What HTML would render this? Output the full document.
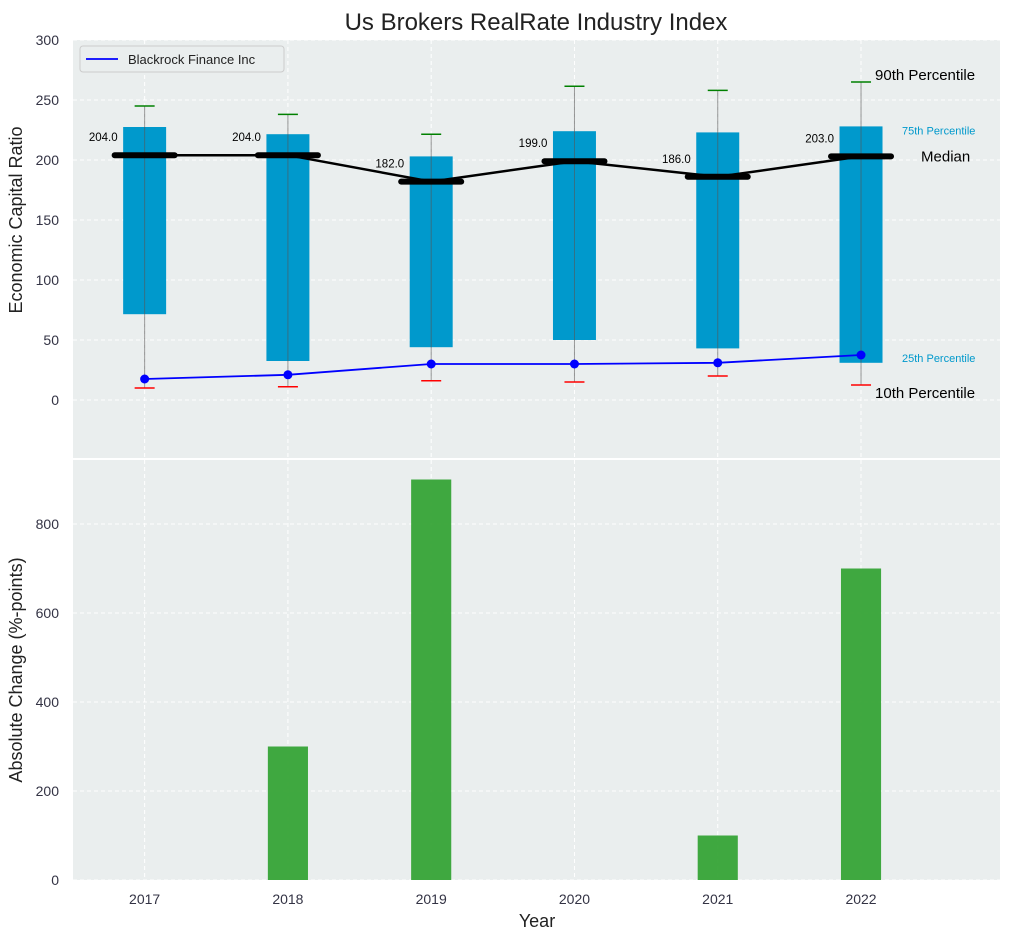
<!DOCTYPE html>
<html><head><meta charset="utf-8"><style>
body{margin:0;background:#fff;font-family:"Liberation Sans",Arial,sans-serif}
svg text{font-family:"Liberation Sans",Arial,sans-serif}
</style></head><body>
<svg id="chart" width="1012" height="940" xmlns="http://www.w3.org/2000/svg">
<text x="536" y="30" text-anchor="middle" font-size="24" fill="#222">Us Brokers RealRate Industry Index</text>
<g id="topPanel"></g><g id="bottomPanel"></g>
</svg>
<script>
const years=[2017,2018,2019,2020,2021,2022];
const p10=[10,11,16,15,20,12.5];
const p25=[71.5,32.5,44,50,43,31];
const p50=[204,204,182,199,186,203];
const p75=[227.5,221.5,203,224,223,228];
const p90=[245,238,221.5,261.5,258,265];
const company=[17.5,21,30,30,31,37.5];
const changes=[0,300,900,0,100,700];
const topTicks=[0,50,100,150,200,250,300];
const botTicks=[0,200,400,600,800];

const NS="http://www.w3.org/2000/svg";
const L=73,R=1000;
const x=v=>L+(v-2016.5)/(2022.97-2016.5)*(R-L);
const yT=v=>400-v*1.2;
const yB=v=>880-v*0.445;
function mk(p,tag,a,t){const el=document.createElementNS(NS,tag);for(const k in a)el.setAttribute(k,a[k]);if(t!==undefined)el.textContent=t;p.appendChild(el);return el;}
const topG=document.getElementById('topPanel'),botG=document.getElementById('bottomPanel');

let e;
e=mk(topG,'rect',{x:L,y:40,width:R-L,height:418,fill:'#eaeeee'});


e=mk(botG,'rect',{x:L,y:460,width:R-L,height:420,fill:'#eaeeee'});



topTicks.forEach(t=>{
 mk(topG,'line',{x1:L,x2:R,y1:yT(t),y2:yT(t),stroke:'#fff','stroke-dasharray':'4,3'});
 e=mk(topG,'text',{x:L-14,y:yT(t)+5,'text-anchor':'end','font-size':14,fill:'#334'},t);
 
 
});
botTicks.forEach(t=>{
 mk(botG,'line',{x1:L,x2:R,y1:yB(t),y2:yB(t),stroke:'#fff','stroke-dasharray':'4,3'});
 e=mk(botG,'text',{x:L-14,y:yB(t)+5,'text-anchor':'end','font-size':14,fill:'#334'},t);
 
 
});
years.forEach(yr=>{
 mk(topG,'line',{x1:x(yr),x2:x(yr),y1:40,y2:458,stroke:'#fff','stroke-dasharray':'4,3'});
 mk(botG,'line',{x1:x(yr),x2:x(yr),y1:460,y2:880,stroke:'#fff','stroke-dasharray':'4,3'});
 e=mk(botG,'text',{x:x(yr),y:904,'text-anchor':'middle','font-size':14,fill:'#334'},yr);
 
 
});

const bw=(x(2017.3)-x(2017));
years.forEach((yr,i)=>{
 const cx=x(yr);
 e=mk(topG,'rect',{x:cx-bw/2,y:yT(p75[i]),width:bw,height:yT(p25[i])-yT(p75[i]),fill:'#0099cc'});
 
 
 e=mk(topG,'line',{x1:cx,x2:cx,y1:yT(p90[i]),y2:yT(p10[i]),stroke:'#555','stroke-opacity':0.6,'stroke-width':1});
 
 
 e=mk(topG,'line',{x1:cx-10,x2:cx+10,y1:yT(p90[i]),y2:yT(p90[i]),stroke:'green','stroke-width':1.5});
 
 
 e=mk(topG,'line',{x1:cx-10,x2:cx+10,y1:yT(p10[i]),y2:yT(p10[i]),stroke:'red','stroke-width':1.5});
 
 
});
e=mk(topG,'polyline',{points:years.map((yr,i)=>x(yr)+','+yT(p50[i])).join(' '),fill:'none',stroke:'#000','stroke-width':2.5});


years.forEach((yr,i)=>{
 const cx=x(yr);
 e=mk(topG,'line',{x1:cx-30,x2:cx+30,y1:yT(p50[i]),y2:yT(p50[i]),stroke:'#000','stroke-width':6,'stroke-linecap':'round'});
 
 
 e=mk(topG,'text',{x:cx-27,y:yT(p50[i])-14,'text-anchor':'end','font-size':11.5,fill:'#000'},p50[i].toFixed(1));
 
 
});
e=mk(topG,'polyline',{points:years.map((yr,i)=>x(yr)+','+yT(company[i])).join(' '),fill:'none',stroke:'blue','stroke-width':1.8});


years.forEach((yr,i)=>{
 e=mk(topG,'circle',{cx:x(yr),cy:yT(company[i]),r:4.5,fill:'blue'});
 
 
});
const lx=x(2022);
[[ '90th Percentile',lx+14,yT(p90[5])-2,15,'#000'],['75th Percentile',lx+41,yT(p75[5])+8,11,'#0099cc'],['Median',lx+60,yT(p50[5])+5,15,'#000'],['25th Percentile',lx+41,yT(p25[5])-1,11,'#0099cc'],['10th Percentile',lx+14,yT(p10[5])+13,15,'#000']].forEach(a=>{
 e=mk(topG,'text',{x:a[1],y:a[2],'font-size':a[3],fill:a[4]},a[0]);
 
 
});
e=mk(topG,'rect',{x:80,y:46,width:204,height:26,fill:'#eaeeee',stroke:'#ccc',rx:3});


mk(topG,'line',{x1:86,x2:118,y1:59,y2:59,stroke:'blue','stroke-width':1.8});
e=mk(topG,'text',{x:128,y:64,'font-size':13,fill:'#222'},'Blackrock Finance Inc');



const bbw=x(2017.28)-x(2017);
years.forEach((yr,i)=>{
 if(!changes[i])return;
 e=mk(botG,'rect',{x:x(yr)-bbw/2,y:yB(changes[i]),width:bbw,height:yB(0)-yB(changes[i]),fill:'#2ca02c','fill-opacity':0.9});
 
 
});

e=mk(topG,'text',{x:22,y:220,'text-anchor':'middle','font-size':18,fill:'#222',transform:'rotate(-90 22 220)'},'Economic Capital Ratio');


e=mk(botG,'text',{x:22,y:670,'text-anchor':'middle','font-size':18,fill:'#222',transform:'rotate(-90 22 670)'},'Absolute Change (%-points)');


e=mk(botG,'text',{x:537,y:927,'text-anchor':'middle','font-size':18,fill:'#222'},'Year');


</script>
</body></html>
